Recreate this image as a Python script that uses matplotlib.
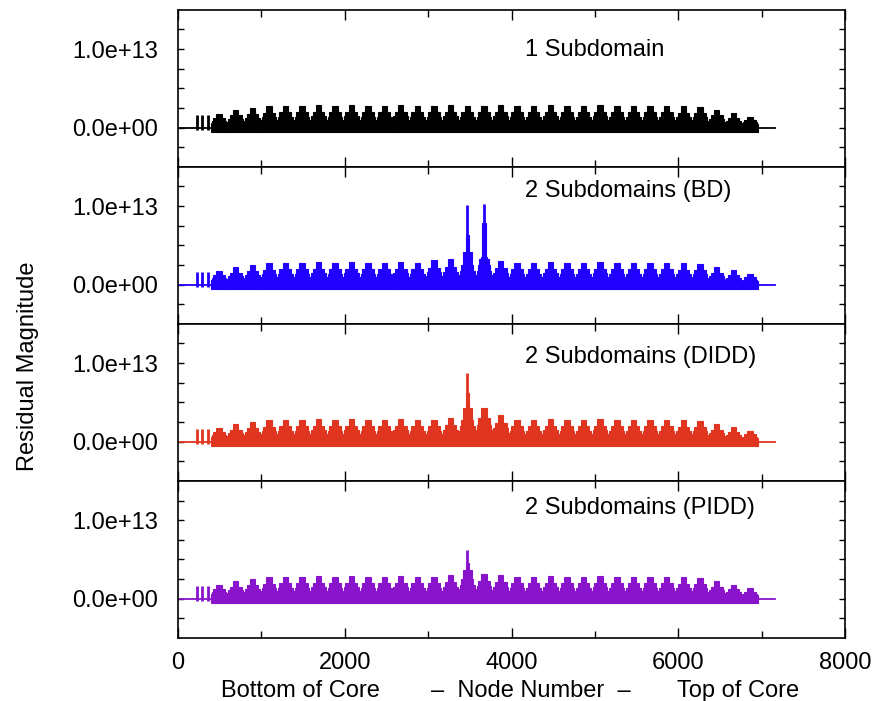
import numpy as np
import matplotlib
matplotlib.use("Agg")
import matplotlib.pyplot as plt

plt.rcParams['font.family'] = ['Liberation Sans', 'DejaVu Sans']

# node positions of the repeating residual bumps (one per axial level)
centres = [495, 694, 893, 1090, 1288, 1487, 1686, 1882, 2079, 2278, 2474,
           2672, 2870, 3072, 3270, 3470, 3670, 3870, 4064, 4264, 4468, 4664,
           4862, 5062, 5262, 5461, 5660, 5861, 6061, 6260, 6460, 6660, 6860]

# bump peak heights, units of 1e13
h_one = [0.17, 0.22, 0.25, 0.27, 0.28, 0.28, 0.29, 0.28, 0.29, 0.28, 0.28,
         0.29, 0.28, 0.28, 0.29, 0.28, 0.28, 0.29, 0.28, 0.28, 0.29, 0.28,
         0.28, 0.29, 0.28, 0.28, 0.28, 0.28, 0.27, 0.26, 0.22, 0.18, 0.13]
h_bd = [0.17, 0.22, 0.25, 0.27, 0.28, 0.28, 0.29, 0.28, 0.29, 0.28, 0.28,
        0.29, 0.28, 0.31, 0.32, 0.35, 0.35, 0.30, 0.28, 0.28, 0.29, 0.28,
        0.28, 0.29, 0.28, 0.28, 0.28, 0.28, 0.27, 0.26, 0.22, 0.18, 0.13]
h_didd = [0.17, 0.22, 0.25, 0.27, 0.28, 0.28, 0.29, 0.28, 0.29, 0.28, 0.28,
          0.29, 0.28, 0.28, 0.30, 0.40, 0.43, 0.34, 0.28, 0.28, 0.29, 0.28,
          0.28, 0.29, 0.28, 0.28, 0.28, 0.28, 0.27, 0.26, 0.22, 0.18, 0.13]
h_pidd = [0.17, 0.22, 0.25, 0.27, 0.28, 0.28, 0.29, 0.28, 0.29, 0.28, 0.28,
          0.29, 0.28, 0.28, 0.30, 0.36, 0.32, 0.30, 0.28, 0.28, 0.29, 0.28,
          0.28, 0.29, 0.28, 0.28, 0.28, 0.28, 0.27, 0.26, 0.22, 0.18, 0.13]

# thin spikes ahead of the first bump
lead_nodes = [231, 291, 356]
lead_heights = [0.16, 0.16, 0.16]

last_node = 7160

# interface spikes: node, peak, middle step, base step (1e13)
bd_spikes = {'node': [3470, 3670], 'peak': [1.01, 1.03],
             'mid': [0.63, 0.78], 'base': [0.42, 0.32]}
didd_spikes = {'node': [3470], 'peak': [0.87], 'mid': [0.62], 'base': [0.43]}
pidd_spikes = {'node': [3470], 'peak': [0.62], 'mid': [0.46], 'base': [0.36]}
no_spikes = {'node': [], 'peak': [], 'mid': [], 'base': []}

panels = [
    ('1 Subdomain', h_one, no_spikes, '#000000', 0.745),
    ('2 Subdomains (BD)', h_bd, bd_spikes, '#2200ff', 0.848),
    ('2 Subdomains (DIDD)', h_didd, didd_spikes, '#e0351e', 0.79),
    ('2 Subdomains (PIDD)', h_pidd, pidd_spikes, '#8a14cc', 0.83),
]

E = 1e13

fig, axes = plt.subplots(4, 1, sharex=True, figsize=(8.85, 7.01), dpi=100)
fig.subplots_adjust(left=0.201, right=0.955, top=0.986, bottom=0.090, hspace=0)

for ax, (title, heights, spk, col, ty) in zip(axes, panels):
    h = np.array(heights) * E
    # baseline trace
    ax.plot([0, last_node], [0, 0], color=col, lw=1.3)
    # stepped bumps, drawn with a soft edge
    kw = dict(color=col, edgecolor=col, lw=0.8, alpha=1.0)
    ax.bar(centres, 0.34 * h + 0.05 * E, bottom=-0.05 * E, width=200, **kw)
    ax.bar(centres, 0.50 * h, width=175, **kw)
    ax.bar(centres, 0.70 * h, width=140, **kw)
    ax.bar(centres, h, width=65, **kw)
    ax.vlines(lead_nodes, -0.03 * E, np.array(lead_heights) * E, color=col, lw=2)
    # interface spikes
    if spk['node']:
        ax.bar(spk['node'], np.array(spk['base']) * E, width=110, **kw)
        ax.bar(spk['node'], np.array(spk['mid']) * E, width=40, **kw)
        ax.vlines(spk['node'], 0, np.array(spk['peak']) * E, color=col, lw=2)

    ax.set_xlim(0, 8000)
    ax.set_ylim(-0.5 * E, 1.5 * E)
    yt = [-0.25 * E, 0, 0.25 * E, 0.5 * E, 0.75 * E, 1.0 * E, 1.25 * E]
    ax.set_yticks(yt)
    ax.set_yticklabels(['', '0.0e+00', '', '', '', '1.0e+13', ''])
    ax.set_xticks([0, 2000, 4000, 6000, 8000])
    ax.set_xticks([1000, 3000, 5000, 7000], minor=True)
    ax.tick_params(axis='both', which='both', direction='in', top=True,
                   right=True, labelsize=17, width=1)
    ax.tick_params(axis='y', length=4, pad=14)
    ax.tick_params(axis='x', which='major', length=7, pad=10)
    ax.tick_params(axis='x', which='minor', length=5)
    for s in ax.spines.values():
        s.set_linewidth(1.2)
    ax.text(0.52, ty, title, transform=ax.transAxes, fontsize=17,
            va='center', ha='left')

fig.text(0.032, 0.478, 'Residual Magnitude', rotation=90, fontsize=17,
         va='center', ha='center')
fig.text(0.340, 0.006, 'Bottom of Core', fontsize=17, ha='center')
fig.text(0.600, 0.006, '\u2013  Node Number  \u2013', fontsize=17, ha='center')
fig.text(0.834, 0.006, 'Top of Core', fontsize=17, ha='center')

fig.savefig('out.png', dpi=100)
